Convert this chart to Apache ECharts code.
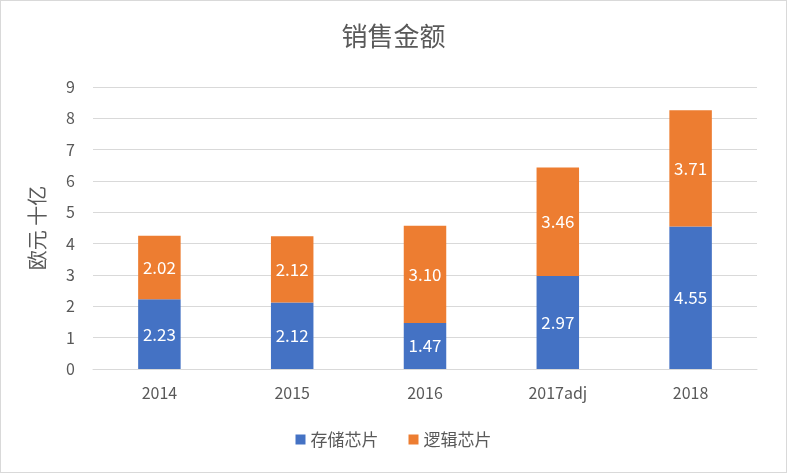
<!DOCTYPE html>
<html><head><meta charset="utf-8">
<script src="https://cdn.jsdelivr.net/npm/echarts@6/dist/echarts.min.js"></script>
<style>html,body{margin:0;padding:0;background:#fff;}#c{width:787px;height:473px;box-sizing:border-box;border:1px solid #d9d9d9;}</style>
</head><body><div id="c"></div>
<script>
const categories = ['2014','2015','2016','2017adj','2018'];
const memory = [2.23, 2.12, 1.47, 2.97, 4.55];
const logic = [2.02, 2.12, 3.10, 3.46, 3.71];
const seriesNames = ['存储芯片','逻辑芯片'];
const chart = echarts.init(document.getElementById('c'));
const font = '"Noto Sans CJK SC", "Noto Sans", sans-serif';
const lbl = {show:true, position:'inside', color:'#fff', fontSize:17, fontFamily:font, formatter: p => p.value.toFixed(2)};
chart.setOption({
  animation:false,
  title:{text:'销售金额', left:'center', top:17, textStyle:{color:'#595959', fontSize:26, fontWeight:'normal', fontFamily:font}},
  legend:{bottom:19, left:'center', itemWidth:10, itemHeight:10, itemGap:30, icon:'rect', textStyle:{color:'#595959', fontSize:17, fontFamily:font}},
  grid:{left:92, right:29, top:86, bottom:103},
  xAxis:{type:'category', data:categories, axisTick:{show:false}, axisLine:{lineStyle:{color:'#d9d9d9'}}, axisLabel:{color:'#595959', fontSize:16, margin:16, fontFamily:font}},
  yAxis:{type:'value', min:0, max:9, interval:1, name:'欧元 十亿', nameLocation:'middle', nameGap:46, nameRotate:90, nameTextStyle:{color:'#595959', fontSize:20, fontFamily:font},
    axisLabel:{color:'#595959', fontSize:16, margin:18, fontFamily:font}, splitLine:{lineStyle:{color:'#d9d9d9'}}, axisLine:{show:false}, axisTick:{show:false}},
  series:[
    {name:seriesNames[0], type:'bar', stack:'a', data:memory, barWidth:'32%', itemStyle:{color:'#4472C4'}, label:lbl},
    {name:seriesNames[1], type:'bar', stack:'a', data:logic, barWidth:'32%', itemStyle:{color:'#ED7D31'}, label:lbl}
  ]
});
</script></body></html>
